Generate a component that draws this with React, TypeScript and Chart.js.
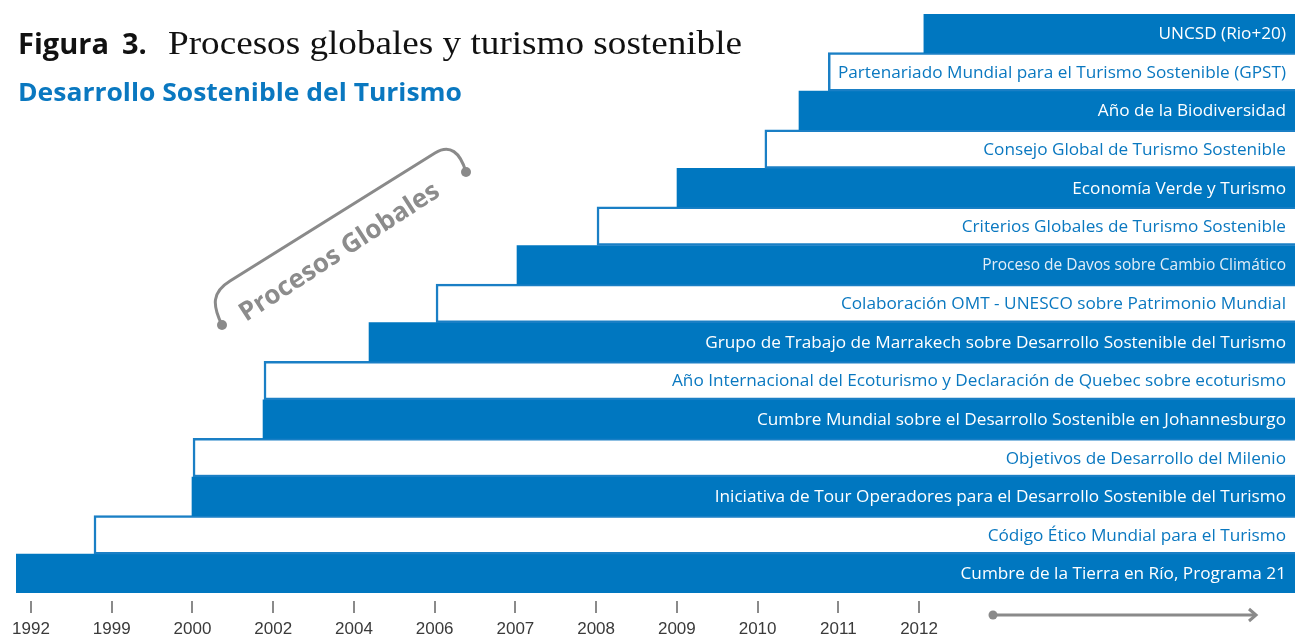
import React, { useEffect, useRef } from 'react';
import { Chart, registerables } from 'chart.js';

Chart.register(...registerables);

// Timeline tick labels (evenly spaced milestones)
const yearLabels = ['1992', '1999', '2000', '2002', '2004', '2006', '2007', '2008', '2009', '2010', '2011', '2012'];

// Events, bottom to top
const eventLabels = [
  'Cumbre de la Tierra en Río, Programa 21',
  'Código Ético Mundial para el Turismo',
  'Iniciativa de Tour Operadores para el Desarrollo Sostenible del Turismo',
  'Objetivos de Desarrollo del Milenio',
  'Cumbre Mundial sobre el Desarrollo Sostenible en Johannesburgo',
  'Año Internacional del Ecoturismo y Declaración de Quebec sobre ecoturismo',
  'Grupo de Trabajo de Marrakech sobre Desarrollo Sostenible del Turismo',
  'Colaboración OMT - UNESCO sobre Patrimonio Mundial',
  'Proceso de Davos sobre Cambio Climático',
  'Criterios Globales de Turismo Sostenible',
  'Economía Verde y Turismo',
  'Consejo Global de Turismo Sostenible',
  'Año de la Biodiversidad',
  'Partenariado Mundial para el Turismo Sostenible (GPST)',
  'UNCSD (Rio+20)',
];

// Start position of each event on the timeline (tick index units)
const eventStarts = [-0.186, 0.78, 1.994, 2.007, 2.874, 2.886, 4.187, 5.017, 6.02, 7.011, 8.002, 9.09, 9.513, 9.876, 11.06];

// Timeline extent
const timelineStart = -0.186;
const timelineEnd = 15.657;

const BLUE = '#0077c0';
const BLUE_LINE = '#1a7fc5';
const BLUE_TEXT = '#0a78c0';

const labelPlugin = {
  id: 'eventLabels',
  afterDatasetsDraw(chart: any) {
    const ctx = chart.ctx;
    const meta = chart.getDatasetMeta(0);
    ctx.save();
    meta.data.forEach((el: any, i: number) => {
      const filled = i % 2 === 0;
      const right = Math.max(el.x, el.base);
      const isLight = i === 8;
      ctx.font = isLight ? '15.5px "Open Sans"' : '17.2px "Open Sans"';
      ctx.fillStyle = filled ? (isLight ? '#e3eef8' : '#ffffff') : BLUE_TEXT;
      ctx.textAlign = 'right';
      ctx.textBaseline = 'middle';
      ctx.fillText(eventLabels[i], right - 9, el.y + 1);
    });
    ctx.restore();
  },
};

export default function App() {
  const canvasRef = useRef<HTMLCanvasElement | null>(null);

  useEffect(() => {
    document.body.style.margin = '0';
    const canvas = canvasRef.current;
    if (!canvas) return;
    const data = eventStarts.map((s, i) => ({ x: [s, timelineEnd], y: i }));
    const chart = new Chart(canvas, {
      type: 'bar',
      data: {
        datasets: [
          {
            data: data as any,
            backgroundColor: (c: any) => (c.dataIndex % 2 === 0 ? BLUE : '#ffffff'),
            borderColor: BLUE_LINE,
            borderWidth: (c: any) =>
              c.dataIndex % 2 === 0 ? 0 : { top: 2.5, left: 2.5, bottom: 2.5, right: 0 },
            borderSkipped: false,
            barPercentage: 1,
            categoryPercentage: 1,
          } as any,
        ],
      },
      options: {
        indexAxis: 'y',
        animation: false,
        responsive: false,
        devicePixelRatio: 1,
        layout: { padding: { left: 16, top: 14, right: 0, bottom: 0 } },
        plugins: { legend: { display: false }, tooltip: { enabled: false }, title: { display: false } },
        scales: {
          y: {
            type: 'linear',
            display: false,
            offset: false,
            min: -0.713,
            max: 14.5,
            afterBuildTicks: (scale: any) => {
              scale.ticks = eventLabels.map((_, i) => ({ value: i }));
            },
          },
          x: {
            type: 'linear',
            min: timelineStart,
            max: timelineEnd,
            afterBuildTicks: (scale: any) => {
              scale.ticks = yearLabels.map((_, i) => ({ value: i }));
            },
            afterFit: (scale: any) => {
              scale.height = 37;
            },
            ticks: {
              autoSkip: false,
              maxRotation: 0,
              padding: 8,
              color: '#3a3a3a',
              font: { family: '"Liberation Sans", sans-serif', size: 17, lineHeight: 1.0 },
              callback: (v: any) => yearLabels[Math.round(Number(v))] ?? '',
            },
            grid: {
              drawOnChartArea: false,
              drawTicks: true,
              tickLength: 12,
              color: '#8a8a8a',
              lineWidth: 2,
            },
            border: { display: false },
          },
        },
      } as any,
      plugins: [labelPlugin],
    });
    return () => chart.destroy();
  }, []);

  return (
    <div style={{ position: 'fixed', left: 0, top: 0, width: 1295, height: 638, background: '#fff' }}>
      <canvas ref={canvasRef} width={1295} height={638} style={{ position: 'absolute', left: 0, top: 0 }} />
      <svg width={1295} height={638} style={{ position: 'absolute', left: 0, top: 0, pointerEvents: 'none' }}>
        <text x={18} y={54} fontFamily='"Open Sans"' fontWeight={700} fontSize={29} fill="#111">Figura</text>
        <text x={122} y={54} fontFamily='"Open Sans"' fontWeight={700} fontSize={29} fill="#111">3.</text>
        <text x={168} y={54} fontFamily='"Liberation Serif", serif' fontSize={33} fill="#111" textLength={574} lengthAdjust="spacingAndGlyphs">Procesos globales y turismo sostenible</text>
        <text x={18} y={101} fontFamily='"Open Sans"' fontWeight={700} fontSize={25} fill="#0a78c0" textLength={444} lengthAdjust="spacingAndGlyphs">Desarrollo Sostenible del Turismo</text>

        <path d="M222,325 C212,305 212,292 230,281 L435,153 C450,144 460,152 466,172" fill="none" stroke="#8a8a8a" strokeWidth={3} />
        <circle cx={222} cy={325} r={5} fill="#8a8a8a" />
        <circle cx={466} cy={172} r={5} fill="#8a8a8a" />
        <text transform="translate(246,322) rotate(-33)" fontFamily='"Open Sans"' fontWeight={700} fontSize={26} fill="#8c8c8c">Procesos Globales</text>

        <line x1={993} y1={615} x2={1255} y2={615} stroke="#8a8a8a" strokeWidth={3} />
        <circle cx={993} cy={615} r={4.5} fill="#8a8a8a" />
        <polyline points="1249,609 1256,615 1249,621" fill="none" stroke="#8a8a8a" strokeWidth={3} />
      </svg>
    </div>
  );
}
